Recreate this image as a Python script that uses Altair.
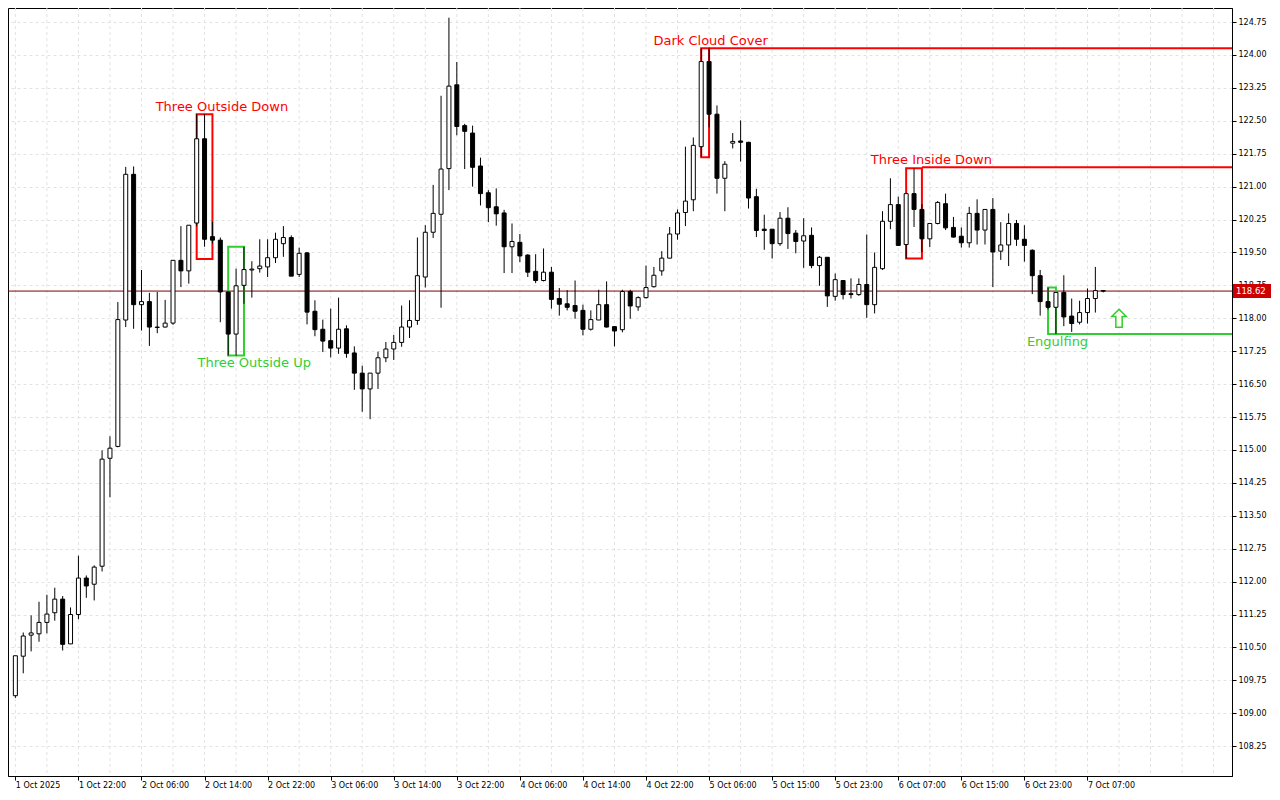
import altair as alt
import pandas as pd

# ---------------- data (hourly candles) ----------------
opens = [109.40, 110.30, 110.78, 110.81, 111.07, 111.29, 111.60, 110.58, 111.25, 112.08,
         111.94, 112.35, 114.81, 115.08, 117.96, 121.28, 118.31, 118.38, 117.79, 117.80,
         117.89, 119.32, 119.08, 120.17, 122.09, 119.86, 119.78, 118.60, 117.64, 118.75,
         119.10, 119.13, 119.17, 119.38, 119.70, 119.84, 119.00, 119.49, 118.16, 117.75,
         117.49, 117.32, 117.76, 117.21, 116.75, 116.39, 116.75, 117.10, 117.30, 117.45,
         117.80, 117.95, 118.94, 119.96, 120.37, 121.41, 123.32, 122.39, 122.22, 121.47,
         120.86, 120.54, 120.40, 119.63, 119.73, 119.44, 119.07, 118.86, 119.05, 118.45,
         118.33, 118.29, 118.18, 117.75, 117.96, 118.31, 117.81, 117.74, 118.61, 118.26,
         118.47, 118.72, 119.08, 119.37, 119.92, 120.41, 120.70, 121.91, 123.85, 122.65,
         121.19, 121.99, 122.04, 122.01, 120.77, 120.03, 120.03, 119.70, 120.28, 119.94,
         119.76, 119.89, 119.20, 119.39, 118.50, 118.86, 118.56, 118.54, 118.77, 118.31,
         119.13, 120.21, 120.59, 119.68, 120.84, 120.48, 119.81, 120.16, 120.61, 120.07,
         119.87, 119.72, 120.39, 120.01, 120.48, 119.53, 119.67, 120.16, 119.80, 119.55,
         118.97, 118.38, 118.25, 118.59, 118.05, 117.91, 118.13, 118.45, 118.63]
highs = [110.31, 110.84, 111.23, 111.54, 111.70, 111.86, 111.67, 111.41, 112.59, 112.14,
         112.37, 114.99, 115.31, 118.37, 121.45, 121.46, 119.10, 118.58, 118.60, 118.42,
         119.32, 120.10, 120.12, 122.65, 122.65, 120.20, 119.84, 118.60, 119.13, 119.63,
         119.30, 119.80, 119.80, 119.95, 120.10, 119.89, 119.61, 119.51, 118.41, 117.97,
         118.22, 118.47, 117.84, 117.36, 116.92, 116.75, 117.24, 117.46, 117.62, 118.29,
         118.41, 119.84, 120.12, 121.04, 123.07, 124.85, 123.84, 122.43, 122.39, 121.66,
         120.92, 120.96, 120.47, 120.16, 119.92, 119.46, 119.46, 119.59, 119.17, 118.69,
         118.64, 118.86, 118.31, 118.18, 118.65, 118.84, 117.82, 118.65, 118.65, 118.50,
         119.20, 119.17, 119.53, 120.08, 120.48, 121.91, 122.12, 124.15, 124.15, 122.85,
         121.58, 122.22, 122.51, 122.02, 120.95, 120.36, 120.03, 120.42, 120.53, 120.01,
         120.28, 120.07, 119.42, 119.39, 119.02, 118.86, 118.91, 118.91, 119.91, 119.50,
         120.44, 121.19, 120.77, 120.86, 121.41, 120.60, 120.16, 120.67, 120.84, 120.31,
         120.07, 120.54, 120.71, 120.48, 120.74, 120.19, 120.39, 120.24, 120.12, 119.57,
         119.10, 118.70, 118.60, 118.98, 118.45, 118.40, 118.68, 119.17, 118.64]
lows = [109.35, 109.91, 110.41, 110.63, 110.82, 111.11, 110.43, 110.58, 111.14, 111.63,
        111.57, 112.23, 113.92, 115.06, 117.80, 117.76, 117.72, 117.37, 117.66, 117.79,
        117.85, 118.71, 118.79, 120.10, 119.63, 119.70, 117.91, 117.15, 117.15, 118.33,
        118.47, 119.04, 118.94, 119.26, 119.40, 118.96, 118.94, 117.86, 117.59, 117.23,
        117.11, 117.19, 117.10, 116.37, 115.87, 115.70, 116.39, 117.00, 117.05, 117.35,
        117.55, 117.85, 118.70, 119.83, 118.24, 120.92, 122.17, 121.40, 121.00, 120.57,
        120.19, 120.11, 119.03, 119.03, 119.28, 118.94, 118.80, 118.84, 118.22, 118.06,
        118.18, 117.99, 117.61, 117.72, 117.96, 117.79, 117.36, 117.68, 117.99, 118.17,
        118.45, 118.70, 118.97, 119.37, 119.79, 120.10, 120.44, 121.68, 122.35, 120.84,
        120.44, 121.87, 121.57, 120.50, 119.85, 119.56, 119.36, 119.65, 119.58, 119.48,
        119.15, 119.14, 118.74, 118.26, 118.40, 118.43, 118.45, 118.51, 118.01, 118.11,
        119.10, 120.03, 119.65, 119.36, 120.08, 119.51, 119.62, 120.14, 120.01, 119.84,
        119.61, 119.61, 119.68, 119.68, 118.71, 119.33, 119.19, 119.65, 119.29, 118.55,
        118.06, 118.20, 117.64, 117.82, 117.69, 117.86, 117.88, 118.13, 118.59]
closes = [110.31, 110.76, 110.83, 111.07, 111.26, 111.60, 110.57, 111.25, 112.08, 111.90,
          112.33, 114.79, 115.04, 117.97, 121.28, 118.31, 118.38, 117.80, 117.80, 117.89,
          119.32, 119.08, 120.12, 122.09, 119.80, 119.78, 118.60, 117.64, 118.74, 119.11,
          119.12, 119.19, 119.38, 119.80, 119.84, 118.96, 119.48, 118.14, 117.74, 117.48,
          117.32, 117.75, 117.20, 116.75, 116.39, 116.75, 117.10, 117.30, 117.45, 117.80,
          117.95, 118.97, 119.96, 120.39, 121.40, 123.29, 122.37, 122.26, 121.44, 120.84,
          120.52, 120.38, 119.63, 119.75, 119.42, 119.05, 118.86, 119.05, 118.43, 118.32,
          118.25, 118.16, 117.75, 117.97, 118.31, 117.80, 117.71, 118.61, 118.28, 118.47,
          118.70, 118.98, 119.37, 119.92, 120.40, 120.67, 121.94, 123.85, 122.65, 121.19,
          121.51, 122.03, 122.01, 120.74, 120.00, 120.00, 119.70, 120.28, 119.93, 119.75,
          119.88, 119.20, 119.39, 118.51, 118.88, 118.54, 118.54, 118.77, 118.31, 119.16,
          120.21, 120.59, 119.66, 120.84, 120.48, 119.81, 120.16, 120.64, 120.06, 119.85,
          119.72, 120.39, 120.01, 120.48, 119.51, 119.67, 120.16, 119.80, 119.66, 118.97,
          118.38, 118.25, 118.59, 118.03, 117.88, 118.13, 118.45, 118.63, 118.62]

tick_labels = ["1 Oct 2025", "1 Oct 22:00", "2 Oct 06:00", "2 Oct 14:00", "2 Oct 22:00",
               "3 Oct 06:00", "3 Oct 14:00", "3 Oct 22:00", "4 Oct 06:00", "4 Oct 14:00",
               "4 Oct 22:00", "5 Oct 06:00", "5 Oct 15:00", "5 Oct 23:00", "6 Oct 07:00",
               "6 Oct 15:00", "6 Oct 23:00", "7 Oct 07:00"]
candles_per_label = 8
price_ticks = [108.25, 109.00, 109.75, 110.50, 111.25, 112.00, 112.75, 113.50, 114.25,
               115.00, 115.75, 116.50, 117.25, 118.00, 118.75, 119.50, 120.25, 121.00,
               121.75, 122.50, 123.25, 124.00, 124.75]

# candlestick patterns
pattern_names = ["Three Outside Down", "Three Outside Up", "Dark Cloud Cover",
                 "Three Inside Down", "Engulfing"]
pattern_kind = ["bear", "bull", "bear", "bear", "bull"]
pattern_start = [23, 27, 87, 113, 131]
pattern_end = [25, 29, 88, 115, 132]
pattern_low = [119.35, 117.15, 121.67, 119.36, 117.64]
pattern_high = [122.65, 119.63, 124.15, 121.42, 118.70]
label_idx = [26.2, 30.3, 88.2, 116.2, 132.2]
label_price = [122.81, 116.98, 124.32, 121.60, 117.46]

level_kind = ["bear", "bear", "bull"]
level_start = [88, 115, 132]
level_price = [124.15, 121.44, 117.64]

arrow_idx = [140]
arrow_price = [118.00]

last_price = [closes[-1]]

# ---------------- layout ----------------
W, H = 1224, 768
XMIN, XMAX = -0.3, 153.7
YMIN, YMAX = 107.57, 125.07
RED, GREEN = "#FF0000", "#32CD32"
FONT = "DejaVu Sans"

n = len(opens)
df = pd.DataFrame({"idx": list(range(n)), "open": opens, "high": highs,
                   "low": lows, "close": closes})
df["dir"] = ["up" if c >= o else "down" for o, c in zip(opens, closes)]

pat = pd.DataFrame({"name": pattern_names, "kind": pattern_kind, "x0": pattern_start,
                    "x1": pattern_end, "lo": pattern_low, "hi": pattern_high,
                    "lx": label_idx, "ly": label_price})
lev = pd.DataFrame({"kind": level_kind, "x0": level_start, "p": level_price})
arr = pd.DataFrame({"x": arrow_idx, "p": arrow_price})
cur = pd.DataFrame({"price": last_price})
grid = pd.DataFrame({"g": list(range(0, 154, 4))})

xs = alt.Scale(domain=[XMIN, XMAX], nice=False, zero=False)
ys = alt.Scale(domain=[YMIN, YMAX], nice=False, zero=False)
kind_color = alt.Scale(domain=["bear", "bull"], range=[RED, GREEN])

label_expr = ("[" + ",".join("'" + t + "'" for t in tick_labels) + "]"
              + "[round(datum.value/%d)]" % candles_per_label)

x_axis = alt.Axis(values=[candles_per_label * k for k in range(len(tick_labels))],
                  labelExpr=label_expr, grid=False, orient="bottom", tickSize=4,
                  labelAlign="left", labelPadding=1, labelFontSize=8, labelFont=FONT,
                  labelColor="black", tickColor="black", domainColor="black",
                  title=None, labelOverlap=False, labelFlush=False, labelBound=False)
y_axis = alt.Axis(orient="right", values=price_ticks, format=".2f", grid=True,
                  gridColor="#E2E2E2", gridDash=[3, 3], tickSize=4, labelPadding=2,
                  labelFontSize=8, labelFont=FONT, labelColor="black", tickColor="black",
                  domainColor="black", title=None, labelOverlap=False, labelFlush=False)


def X(field):
    return alt.X(field, scale=xs, axis=x_axis)


def Y(field):
    return alt.Y(field, scale=ys, axis=y_axis)


vgrid = alt.Chart(grid).mark_rule(color="#E2E2E2", strokeDash=[3, 3], strokeWidth=1).encode(
    x=X("g:Q"), y=alt.value(0), y2=alt.value(H))

price_line = alt.Chart(cur).mark_rule(color="#7A0000", strokeWidth=1).encode(
    y=Y("price:Q"), x=alt.value(0), x2=alt.value(W))

boxes = alt.Chart(pat).mark_rect(fillOpacity=0, strokeWidth=2, clip=True).encode(
    x=X("x0:Q"), x2="x1:Q", y=Y("lo:Q"), y2="hi:Q",
    stroke=alt.Stroke("kind:N", scale=kind_color, legend=None))

levels = alt.Chart(lev).mark_rule(strokeWidth=2).encode(
    x=X("x0:Q"), x2=alt.value(W), y=Y("p:Q"),
    color=alt.Color("kind:N", scale=kind_color, legend=None))

wicks = alt.Chart(df).mark_rule(color="black", strokeWidth=1, clip=True).encode(
    x=X("idx:Q"), y=Y("low:Q"), y2="high:Q")

bodies = alt.Chart(df).mark_bar(size=4, stroke="black", strokeWidth=1, clip=True).encode(
    x=X("idx:Q"), y=Y("open:Q"), y2="close:Q",
    fill=alt.Fill("dir:N", scale=alt.Scale(domain=["up", "down"], range=["white", "black"]),
                  legend=None))

texts = alt.Chart(pat).mark_text(font=FONT, fontSize=13, align="center",
                                 baseline="middle").encode(
    x=X("lx:Q"), y=Y("ly:Q"), text="name:N",
    color=alt.Color("kind:N", scale=kind_color, legend=None))

arrow_shape = "M0,-1 L0.8,-0.2 L0.35,-0.2 L0.35,1 L-0.35,1 L-0.35,-0.2 L-0.8,-0.2 Z"
arrow = alt.Chart(arr).mark_point(shape=arrow_shape, size=330, filled=True, fill="#FFFFF0",
                                  stroke=GREEN, strokeWidth=1.5, opacity=1).encode(
    x=X("x:Q"), y=Y("p:Q"))

tag_box = alt.Chart(cur).transform_calculate(
    top="datum.price + 0.16", bot="datum.price - 0.16").mark_rect(color="#CC0000").encode(
    x=alt.value(W + 1), x2=alt.value(W + 39), y=Y("top:Q"), y2="bot:Q")
tag_text = alt.Chart(cur).mark_text(align="left", baseline="middle", color="white",
                                    font=FONT, fontSize=8.5).encode(
    x=alt.value(W + 4), y=Y("price:Q"), text=alt.Text("price:Q", format=".2f"))

chart = alt.layer(vgrid, price_line, boxes, levels, wicks, bodies, texts, arrow,
                  tag_box, tag_text).properties(
    width=W, height=H,
    autosize=alt.AutoSizeParams(type="none"),
    padding={"left": 0, "top": 0, "right": 40, "bottom": 16},
    background="white",
).configure_view(stroke="black", strokeWidth=1)

chart.save("out.html", embed_options={"renderer": "svg", "actions": False})
